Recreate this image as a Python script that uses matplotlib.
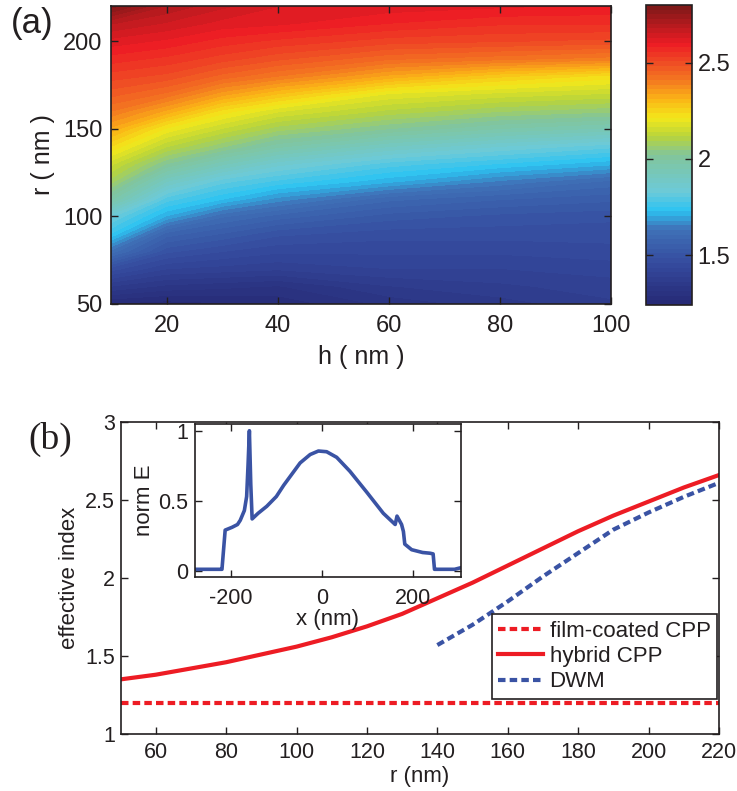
import numpy as np
import matplotlib
matplotlib.use("Agg")
import matplotlib.pyplot as plt
from matplotlib.colors import LinearSegmentedColormap

plt.rcParams['font.family'] = ['Liberation Sans', 'DejaVu Sans']
plt.rcParams['axes.unicode_minus'] = False
TXT = '#231f20'
plt.rcParams['text.color'] = TXT
plt.rcParams['axes.edgecolor'] = TXT
plt.rcParams['xtick.color'] = TXT
plt.rcParams['ytick.color'] = TXT
plt.rcParams['axes.labelcolor'] = TXT

# ---------------- panel (a) data: effective index map ----------------
h_nm = [10, 20, 30, 40, 60, 80, 100]
r_nm = [50, 60, 70, 80, 90, 100, 110, 120, 130, 140, 150, 160, 170, 180, 190, 200, 210, 220]
neff_h10 = [1.26, 1.36, 1.47, 1.62, 1.75, 1.83, 1.98, 2.08, 2.15, 2.24, 2.33, 2.41, 2.47, 2.52, 2.57, 2.62, 2.68, 2.79]
neff_h20 = [1.25, 1.33, 1.41, 1.49, 1.57, 1.70, 1.79, 1.90, 2.02, 2.12, 2.21, 2.33, 2.43, 2.50, 2.55, 2.60, 2.65, 2.70]
neff_h30 = [1.26, 1.32, 1.40, 1.46, 1.53, 1.61, 1.73, 1.81, 1.93, 2.05, 2.14, 2.23, 2.35, 2.45, 2.52, 2.57, 2.62, 2.66]
neff_h40 = [1.27, 1.31, 1.39, 1.44, 1.49, 1.57, 1.67, 1.77, 1.86, 1.98, 2.08, 2.17, 2.29, 2.41, 2.49, 2.55, 2.61, 2.63]
neff_h60 = [1.32, 1.36, 1.41, 1.44, 1.47, 1.52, 1.59, 1.71, 1.79, 1.90, 2.02, 2.11, 2.19, 2.33, 2.44, 2.52, 2.58, 2.62]
neff_h80 = [1.35, 1.38, 1.41, 1.44, 1.47, 1.50, 1.56, 1.65, 1.75, 1.85, 1.97, 2.07, 2.16, 2.27, 2.42, 2.51, 2.56, 2.61]
neff_h100 = [1.38, 1.40, 1.42, 1.45, 1.47, 1.49, 1.54, 1.60, 1.71, 1.81, 1.94, 2.05, 2.14, 2.23, 2.40, 2.50, 2.56, 2.60]
map_range = [1.24, 2.80]
cbar_ticks = [1.5, 2, 2.5]
cbar_ticklabels = ['1.5', '2', '2.5']

# ---------------- panel (b) data ----------------
r_film = [50, 60, 70, 80, 90, 100, 110, 120, 130, 140, 150, 160, 170, 180, 190, 200, 210, 220]
neff_film = [1.197, 1.197, 1.197, 1.197, 1.197, 1.197, 1.197, 1.197, 1.197, 1.197, 1.197, 1.197, 1.197, 1.197, 1.197, 1.197, 1.197, 1.197]
r_hybrid = [50, 60, 70, 80, 90, 100, 110, 120, 130, 140, 150, 160, 170, 180, 190, 200, 210, 220]
neff_hybrid = [1.35, 1.38, 1.42, 1.46, 1.51, 1.56, 1.62, 1.69, 1.77, 1.87, 1.97, 2.08, 2.19, 2.30, 2.40, 2.49, 2.58, 2.66]
r_dwm = [140, 150, 160, 170, 180, 190, 200, 210, 220]
neff_dwm = [1.57, 1.70, 1.85, 2.01, 2.16, 2.31, 2.42, 2.52, 2.61]

# inset: normalized field profile
x_field = [-280, -250, -222, -219, -212, -197, -185, -179, -170, -165, -162, -159, -156, -153,
           -140, -121, -100, -84, -66, -48, -26, -8, 10, 32, 61, 98, 134, 160, 164, 174, 178,
           181, 196, 220, 236, 243, 246, 250, 270, 290, 302]
norm_E = [0.01, 0.01, 0.01, 0.01, 0.29, 0.31, 0.33, 0.36, 0.43, 0.53, 0.75, 1.0, 0.62, 0.37,
          0.41, 0.46, 0.53, 0.61, 0.69, 0.77, 0.83, 0.855, 0.85, 0.81, 0.71, 0.56, 0.41, 0.33, 0.39, 0.33, 0.28,
          0.19, 0.15, 0.13, 0.125, 0.12, 0.01, 0.01, 0.01, 0.01, 0.02]

# ---------------- colormap (printed jet) ----------------
cmap = LinearSegmentedColormap.from_list('printjet', [
    (0.0, '#262a76'), (0.125, '#34489c'), (0.25, '#3f72b8'), (0.3125, '#2cc3f2'),
    (0.375, '#6ccad9'), (0.5, '#82c59a'), (0.5625, '#b8d43c'), (0.625, '#f3e81b'),
    (0.6875, '#fbb516'), (0.75, '#f47a20'), (0.8125, '#ef4c24'), (0.875, '#ed1c24'),
    (1.0, '#7f1818')], N=64)

W, H = 737, 791
fig = plt.figure(figsize=(W / 100, H / 100), dpi=100)

def ax_rect(l, t, r, b):
    return [l / W, 1 - b / H, (r - l) / W, (b - t) / H]

# ---------------- panel (a) ----------------
axa = fig.add_axes(ax_rect(111, 6, 611, 304))
Z = np.column_stack([neff_h10, neff_h20, neff_h30, neff_h40, neff_h60, neff_h80, neff_h100])
levels = np.linspace(map_range[0], map_range[1], 65)
cf = axa.contourf(h_nm, r_nm, Z, levels=levels, cmap=cmap)
axa.set_xlim(10, 100)
axa.set_ylim(50, 220)
axa.set_xticks([20, 40, 60, 80, 100])
axa.set_yticks([50, 100, 150, 200])
axa.tick_params(direction='in', top=True, right=True, length=5, width=1, labelsize=17)
axa.tick_params(axis='x', pad=8)
axa.tick_params(axis='y', pad=6)
axa.set_xlabel('h ( nm )', fontsize=18, labelpad=6)
axa.set_ylabel('r ( nm )', fontsize=18, labelpad=6)
for s in axa.spines.values():
    s.set_linewidth(1.2)

cax = fig.add_axes(ax_rect(646, 5, 692, 305))
cb = fig.colorbar(cf, cax=cax, ticks=cbar_ticks)
cb.ax.set_yticklabels(cbar_ticklabels)
cax.tick_params(direction='in', left=True, right=True, length=5, width=1, labelsize=17, pad=4)
cb.outline.set_linewidth(1.2)
cb.outline.set_edgecolor(TXT)

fig.text(32 / W, 1 - 24 / H, '(a)', fontsize=25, ha='center', va='center')

# ---------------- panel (b) ----------------
axb = fig.add_axes(ax_rect(120.5, 422, 719, 734))
RED = '#ed1c24'
BLUE = '#3a53a4'
axb.plot(r_film, neff_film, color=RED, lw=3, linestyle=(0, (1.8, 1.0)), label='film-coated CPP')
axb.plot(r_hybrid, neff_hybrid, color=RED, lw=3, label='hybrid CPP')
axb.plot(r_dwm, neff_dwm, color=BLUE, lw=3, linestyle=(0, (1.8, 1.0)), label='DWM')
axb.set_xlim(50, 220)
axb.set_ylim(1, 3)
axb.set_xticks([60, 80, 100, 120, 140, 160, 180, 200, 220])
axb.set_yticks([1, 1.5, 2, 2.5, 3])
axb.set_yticklabels(['1', '1.5', '2', '2.5', '3'])
axb.tick_params(direction='in', top=True, right=True, length=5, width=1, labelsize=15.5)
axb.tick_params(axis='x', pad=6)
axb.tick_params(axis='y', pad=4)
axb.set_xlabel('r (nm)', fontsize=16, labelpad=2)
axb.set_ylabel('effective index', fontsize=16, labelpad=4)
for s in axb.spines.values():
    s.set_linewidth(1.2)
leg = axb.legend(loc='lower right', bbox_to_anchor=(0.997, 0.112), borderaxespad=0,
                 fontsize=16, frameon=True, fancybox=False, framealpha=1,
                 edgecolor=TXT, handlelength=2.0, labelspacing=0.2, borderpad=0.3,
                 handletextpad=0.3)
leg.get_frame().set_linewidth(1.2)

fig.text(50 / W, 1 - 439 / H, '(b)', fontsize=27, ha='center', va='center',
         family=['Liberation Serif', 'DejaVu Serif'])

# ---------------- inset ----------------
axi = fig.add_axes(ax_rect(195, 424, 461, 577))
axi.plot(x_field, norm_E, color=BLUE, lw=2.6)
axi.set_xlim(-278, 304)
axi.set_ylim(-0.045, 1.048)
axi.set_xticks([-200, 0, 200])
axi.set_xticklabels(['-200', '0', '200'])
axi.set_yticks([0, 0.5, 1])
axi.set_yticklabels(['0', '0.5', '1'])
axi.tick_params(direction='in', top=True, right=True, length=5, width=1, labelsize=15.5)
axi.tick_params(axis='x', pad=8)
axi.tick_params(axis='y', pad=5)
axi.set_xlabel('x (nm)', fontsize=16, labelpad=0)
axi.set_ylabel('norm E', fontsize=16, labelpad=2)
for s in axi.spines.values():
    s.set_linewidth(1.2)

fig.savefig('out.png', dpi=100)
